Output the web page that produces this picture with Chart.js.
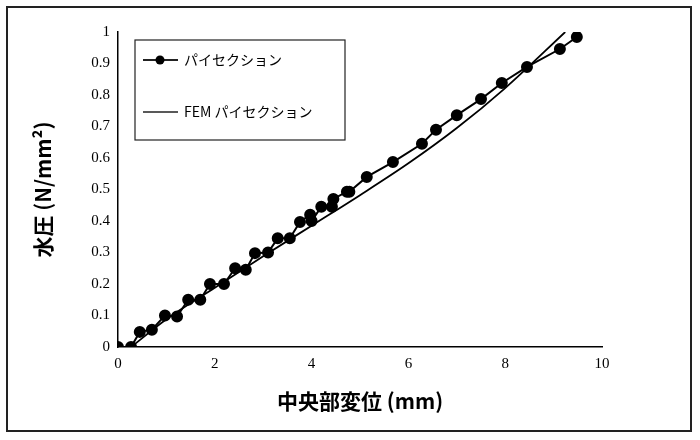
<!DOCTYPE html>
<html><head><meta charset="utf-8">
<script src="https://cdn.jsdelivr.net/npm/chart.js@4"></script>
<style>body{margin:0;background:#fff}#w{position:absolute;left:6px;top:6px;width:686px;height:426px;border:2px solid #222;box-sizing:border-box}</style>
</head><body><div id="w"></div><canvas id="c" width="700" height="440" style="position:absolute;left:0;top:0"></canvas>
<script>
const seriesNames=["パイセクション","FEM パイセクション"];
const testX=[0,0.27,0.45,0.7,0.97,1.22,1.45,1.7,1.9,2.19,2.42,2.64,2.83,3.1,3.3,3.55,3.76,3.97,4.0,4.2,4.42,4.45,4.73,4.78,5.14,5.68,6.28,6.57,7.0,7.5,7.93,8.45,9.13,9.48];
const testY=[0,0,0.048,0.055,0.1,0.097,0.15,0.15,0.2,0.2,0.25,0.245,0.298,0.3,0.345,0.345,0.397,0.42,0.40,0.445,0.445,0.47,0.493,0.493,0.54,0.587,0.645,0.69,0.736,0.787,0.838,0.889,0.946,0.984];
const femX=[0.27,1,2,3,4,5,6,7,8,9.24];
const femY=[0,0.088,0.188,0.288,0.385,0.482,0.583,0.695,0.822,1.0];
const pts=(xs,ys)=>xs.map((x,i)=>({x,y:ys[i]}));
const legendPlugin={id:'lg',afterDraw(ch){const c=ch.ctx;c.save();c.strokeStyle='#222';c.lineWidth=1.2;c.strokeRect(135,40,210,100);
c.font='14px "Noto Sans CJK JP"';c.fillStyle='#000';c.textBaseline='middle';
c.lineWidth=2;c.beginPath();c.moveTo(143,60);c.lineTo(178,60);c.stroke();c.beginPath();c.arc(160,60,4.5,0,7);c.fill();c.fillText(seriesNames[0],184,60);
c.lineWidth=1.6;c.beginPath();c.moveTo(143,112);c.lineTo(178,112);c.stroke();c.fillText(seriesNames[1],184,112);c.restore();}};
new Chart(document.getElementById('c'),{type:'scatter',data:{datasets:[
{label:seriesNames[0],data:pts(testX,testY),showLine:true,borderColor:'#000',backgroundColor:'#000',borderWidth:2,pointRadius:5,pointHoverRadius:5},
{label:seriesNames[1],data:pts(femX,femY),showLine:true,borderColor:'#000',borderWidth:1.8,pointRadius:0,cubicInterpolationMode:'monotone'}]},
options:{responsive:false,animation:false,layout:{padding:{left:26,right:98,top:32,bottom:22}},
plugins:{legend:{display:false},tooltip:{enabled:false}},
scales:{x:{type:'linear',min:0,max:10,afterFit:s=>{s.height=71},grid:{display:false,tickColor:'#000',tickLength:5},border:{color:'#000',width:1.5},
ticks:{stepSize:2,color:'#000',font:{family:'Liberation Serif',size:15}},title:{display:true,text:'中央部変位 (mm)',color:'#000',font:{family:'Noto Sans CJK JP',size:21,weight:'bold'},padding:{top:0}}},
y:{min:0,max:1,afterFit:s=>{s.width=92},grid:{display:false,tickColor:'#000',tickLength:5},border:{color:'#000',width:1.5},
ticks:{stepSize:0.1,color:'#000',font:{family:'Liberation Serif',size:15},callback:v=>String(Math.round(v*10)/10)},title:{display:true,text:'水圧 (N/mm²)',color:'#000',font:{family:'Noto Sans CJK JP',size:21,weight:'bold'},padding:{bottom:10}}}}},
plugins:[legendPlugin]});
</script></body></html>
